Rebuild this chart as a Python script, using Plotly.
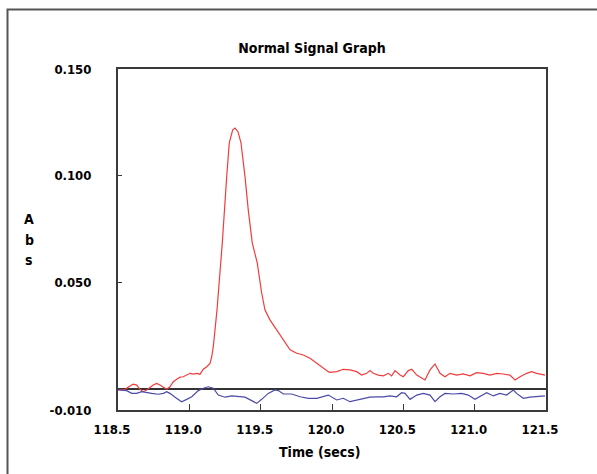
import plotly.graph_objects as go

# ---- data ----
red_t = [118.502, 118.549, 118.584, 118.607, 118.631, 118.654, 118.677, 118.701, 118.747, 118.771,
         118.794, 118.818, 118.841, 118.864, 118.888, 118.911, 118.935, 118.958, 118.982, 119.005,
         119.028, 119.052, 119.075, 119.098, 119.122, 119.145, 119.157, 119.168, 119.194, 119.231,
         119.262, 119.280, 119.304, 119.320, 119.341, 119.362, 119.390, 119.413, 119.441, 119.476,
         119.507, 119.530, 119.565, 119.624, 119.671, 119.706, 119.753, 119.799, 119.846, 119.893,
         119.939, 119.974, 119.986, 120.033, 120.079, 120.126, 120.173, 120.208, 120.243, 120.266,
         120.289, 120.324, 120.360, 120.395, 120.418, 120.442, 120.477, 120.500, 120.535, 120.559,
         120.594, 120.652, 120.687, 120.722, 120.757, 120.792, 120.827, 120.874, 120.920, 120.967,
         121.014, 121.060, 121.107, 121.154, 121.200, 121.247, 121.283, 121.318, 121.365, 121.400,
         121.435, 121.493]
red_v = [-0.0006, -0.0003, 0.0013, 0.0021, 0.0017, -0.0003, -0.0014, -0.0006, 0.0017, 0.0025,
         0.0017, 0.0007, -0.0003, 0.0009, 0.0033, 0.0044, 0.0054, 0.0056, 0.0064, 0.0072,
         0.0068, 0.0072, 0.0068, 0.0091, 0.0103, 0.0119, 0.0150, 0.0197, 0.0370, 0.0684,
         0.0996, 0.1153, 0.1215, 0.1223, 0.1206, 0.1154, 0.0996, 0.0839, 0.0684, 0.0590,
         0.0449, 0.0370, 0.0323, 0.0262, 0.0215, 0.0182, 0.0166, 0.0158, 0.0143, 0.0119,
         0.0096, 0.0080, 0.0077, 0.0080, 0.0091, 0.0088, 0.0080, 0.0064, 0.0072, 0.0085,
         0.0072, 0.0064, 0.0060, 0.0072, 0.0060, 0.0085, 0.0064, 0.0056, 0.0085, 0.0091,
         0.0064, 0.0041, 0.0088, 0.0116, 0.0072, 0.0056, 0.0072, 0.0064, 0.0069, 0.0060,
         0.0075, 0.0072, 0.0064, 0.0072, 0.0069, 0.0064, 0.0041, 0.0056, 0.0072, 0.0080,
         0.0072, 0.0064]

blue_t = [118.502, 118.561, 118.596, 118.631, 118.666, 118.701, 118.736, 118.782, 118.818, 118.841,
          118.864, 118.900, 118.946, 118.982, 119.017, 119.063, 119.098, 119.133, 119.168, 119.203,
          119.250, 119.297, 119.343, 119.390, 119.437, 119.472, 119.507, 119.553, 119.600, 119.624,
          119.659, 119.718, 119.776, 119.834, 119.893, 119.939, 119.974, 120.033, 120.079, 120.126,
          120.173, 120.219, 120.266, 120.313, 120.360, 120.406, 120.453, 120.488, 120.512, 120.547,
          120.594, 120.640, 120.687, 120.722, 120.757, 120.792, 120.850, 120.909, 120.955, 121.002,
          121.037, 121.084, 121.131, 121.177, 121.224, 121.271, 121.294, 121.341, 121.388, 121.435,
          121.493]
blue_v = [-0.0006, -0.0009, -0.0022, -0.0022, -0.0014, -0.0019, -0.0022, -0.0026, -0.0022, -0.0014,
          -0.0022, -0.0040, -0.0061, -0.0050, -0.0038, -0.0009, 0.0002, 0.0009, 0.0002, -0.0030,
          -0.0040, -0.0034, -0.0038, -0.0040, -0.0056, -0.0069, -0.0050, -0.0022, -0.0006, -0.0009,
          -0.0025, -0.0025, -0.0038, -0.0045, -0.0045, -0.0038, -0.0030, -0.0053, -0.0045, -0.0061,
          -0.0053, -0.0045, -0.0040, -0.0038, -0.0038, -0.0034, -0.0038, -0.0019, -0.0022, -0.0050,
          -0.0030, -0.0022, -0.0030, -0.0061, -0.0038, -0.0022, -0.0025, -0.0022, -0.0030, -0.0050,
          -0.0038, -0.0019, -0.0034, -0.0022, -0.0030, -0.0006, -0.0022, -0.0045, -0.0040, -0.0038,
          -0.0034]

x_label_vals = [118.5, 119.0, 119.5, 120.0, 120.5, 121.0, 121.5]
x_label_text = ["118.5", "119.0", "119.5", "120.0", "120.5", "121.0", "121.5"]
x_tick_vals = [119.0, 119.5, 120.0, 120.5, 121.0]
y_label_vals = [-0.010, 0.050, 0.100, 0.150]
y_label_text = ["-0.010", "0.050", "0.100", "0.150"]
y_tick_vals = [0.0, 0.050, 0.100]
x_range = [118.5, 121.5]
y_range = [-0.010, 0.150]

FONT = "DejaVu Sans Condensed, DejaVu Sans, sans-serif"
AX = "#3a3a3a"

fig = go.Figure()
fig.add_trace(go.Scatter(x=red_t, y=red_v, mode="lines",
                         line=dict(color="#f23c3c", width=1.2), showlegend=False))
fig.add_trace(go.Scatter(x=blue_t, y=blue_v, mode="lines",
                         line=dict(color="#4a4aa8", width=1.2), showlegend=False))

fig.update_layout(
    width=597, height=474,
    margin=dict(l=118, r=51, t=69, b=64),
    paper_bgcolor="white", plot_bgcolor="white",
    font=dict(family=FONT, size=13, color="black", weight="bold"),
    title=dict(text="Normal Signal Graph", xref="container", yref="container",
               x=0.5226, y=1 - 48 / 474, xanchor="center", yanchor="middle",
               font=dict(family=FONT, size=14, color="black", weight="bold")),
    xaxis=dict(range=x_range, showgrid=False, zeroline=False,
               showline=True, mirror=True, linecolor=AX, linewidth=2,
               tickmode="array", tickvals=x_label_vals, ticktext=x_label_text,
               ticks="inside", ticklen=6, tickwidth=1, tickcolor=AX,
               ticklabelshift=-6, ticklabelstandoff=6,
               tickfont=dict(family=FONT, size=13, color="black", weight="bold")),
    xaxis2=dict(range=x_range, overlaying="x", matches="x", side="bottom",
                showgrid=False, zeroline=False, showline=False,
                tickmode="array", tickvals=x_tick_vals, showticklabels=False,
                ticks="outside", ticklen=3, tickwidth=1, tickcolor=AX),
    yaxis=dict(range=y_range, showgrid=False,
               zeroline=True, zerolinecolor="#333333", zerolinewidth=2,
               showline=True, mirror=True, linecolor=AX, linewidth=2,
               tickmode="array", tickvals=y_label_vals, ticktext=y_label_text,
               ticks="inside", ticklen=4, tickwidth=1, tickcolor=AX,
               ticklabelstandoff=22,
               tickfont=dict(family=FONT, size=13, color="black", weight="bold")),
    yaxis2=dict(range=y_range, overlaying="y", matches="y", side="left",
                showgrid=False, zeroline=False, showline=False,
                tickmode="array", tickvals=y_tick_vals, showticklabels=False,
                ticks="outside", ticklen=5, tickwidth=1, tickcolor=AX),
)

# axis titles as text
fig.add_annotation(text="Time (secs)", xref="paper", yref="paper",
                   x=(319 - 118) / 428, y=-(452 - 410) / 341,
                   xanchor="center", yanchor="middle", showarrow=False,
                   font=dict(family=FONT, size=14, color="black", weight="bold"))
for letter, py in zip(["A", "b", "s"], [219, 239.5, 260]):
    fig.add_annotation(text=letter, xref="paper", yref="paper",
                       x=(29 - 118) / 428, y=(410 - py) / 341,
                       xanchor="center", yanchor="middle", showarrow=False,
                       font=dict(family=FONT, size=14, color="black", weight="bold"))

# outer frame of the window
fig.add_shape(type="rect", xref="paper", yref="paper",
              x0=(7.5 - 118) / 428, x1=1.3, y0=-0.5, y1=(410 - 9.5) / 341,
              line=dict(color="#555555", width=2), layer="below")

fig.write_html("out.html")
